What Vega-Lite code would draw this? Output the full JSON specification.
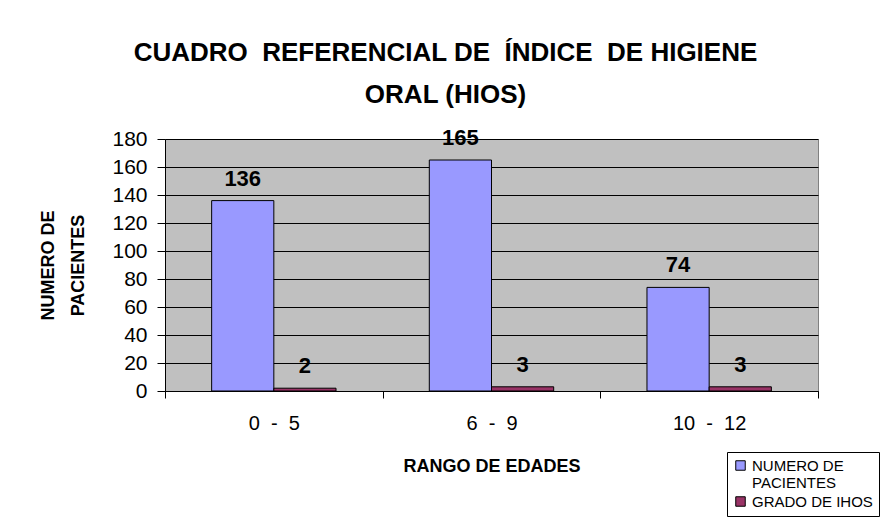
{
  "$schema": "https://vega.github.io/schema/vega-lite/v6.json",
  "width": 653,
  "height": 252,
  "autosize": {"type": "none"},
  "padding": {"left": 165, "top": 139, "right": 73, "bottom": 128},
  "background": "white",
  "title": {
    "text": ["CUADRO\u00a0\u00a0REFERENCIAL DE\u00a0\u00a0ÍNDICE\u00a0\u00a0DE HIGIENE", "ORAL (HIOS)"],
    "font": "Liberation Sans",
    "fontSize": 26,
    "fontWeight": "bold",
    "color": "black",
    "lineHeight": 42,
    "anchor": "middle",
    "dx": -46,
    "offset": 19
  },
  "data": {
    "values": [
      {"rango": "0\u00a0\u00a0-\u00a0\u00a05", "serie": "NUMERO DE PACIENTES", "valor": 136},
      {"rango": "0\u00a0\u00a0-\u00a0\u00a05", "serie": "GRADO DE IHOS", "valor": 2},
      {"rango": "6\u00a0\u00a0-\u00a0\u00a09", "serie": "NUMERO DE PACIENTES", "valor": 165},
      {"rango": "6\u00a0\u00a0-\u00a0\u00a09", "serie": "GRADO DE IHOS", "valor": 3},
      {"rango": "10\u00a0\u00a0-\u00a0\u00a012", "serie": "NUMERO DE PACIENTES", "valor": 74},
      {"rango": "10\u00a0\u00a0-\u00a0\u00a012", "serie": "GRADO DE IHOS", "valor": 3}
    ]
  },
  "encoding": {
    "x": {
      "field": "rango",
      "type": "nominal",
      "sort": null,
      "scale": {"paddingInner": 0, "paddingOuter": 0},
      "axis": {
        "title": "RANGO DE EDADES",
        "titleFont": "Liberation Sans",
        "titleFontSize": 18,
        "titleFontWeight": "bold",
        "titleColor": "black",
        "titlePadding": 24,
        "labelAngle": 0,
        "labelFont": "Liberation Sans",
        "labelFontSize": 20,
        "labelColor": "black",
        "labelPadding": 15,
        "tickBand": "extent",
        "tickSize": 7,
        "tickColor": "black",
        "domainColor": "black",
        "grid": false
      }
    },
    "xOffset": {
      "field": "serie",
      "type": "nominal",
      "sort": ["NUMERO DE PACIENTES", "GRADO DE IHOS"],
      "scale": {"paddingInner": 0, "paddingOuter": 0.75}
    },
    "y": {
      "field": "valor",
      "type": "quantitative",
      "scale": {"domain": [0, 180]},
      "axis": {
        "title": ["NUMERO DE", "PACIENTES"],
        "titleFont": "Liberation Sans",
        "titleFontSize": 18,
        "titleFontWeight": "bold",
        "titleColor": "black",
        "titleLineHeight": 30,
        "titlePadding": 24,
        "values": [0, 20, 40, 60, 80, 100, 120, 140, 160, 180],
        "labelFont": "Liberation Sans",
        "labelFontSize": 21,
        "labelColor": "black",
        "labelPadding": 10,
        "tickSize": 8,
        "tickColor": "black",
        "domainColor": "black",
        "grid": true,
        "gridColor": "black",
        "gridWidth": 1
      }
    }
  },
  "layer": [
    {
      "mark": {"type": "bar", "stroke": "black", "strokeWidth": 1},
      "encoding": {
        "color": {
          "field": "serie",
          "type": "nominal",
          "scale": {"domain": ["NUMERO DE PACIENTES", "GRADO DE IHOS"], "range": ["#9999FF", "#993366"]},
          "legend": {
            "title": null,
            "orient": "none",
            "legendX": 562,
            "legendY": 313,
            "strokeColor": "black",
            "fillColor": "white",
            "padding": 6,
            "symbolType": "square",
            "symbolSize": 90,
            "symbolStrokeColor": "black",
            "symbolStrokeWidth": 1,
            "labelFont": "Liberation Sans",
            "labelFontSize": 15,
            "labelColor": "black",
            "labelLimit": 200,
            "rowPadding": 3,
            "labelExpr": "datum.label == 'NUMERO DE PACIENTES' ? ['NUMERO DE', 'PACIENTES'] : datum.label"
          }
        }
      }
    },
    {
      "mark": {
        "type": "text",
        "font": "Liberation Sans",
        "fontSize": 22,
        "fontWeight": "bold",
        "color": "black",
        "baseline": "alphabetic",
        "dy": -15
      },
      "encoding": {
        "text": {"field": "valor", "type": "quantitative"}
      }
    }
  ],
  "config": {
    "view": {"fill": "#C0C0C0", "stroke": "#808080", "strokeWidth": 1}
  }
}
